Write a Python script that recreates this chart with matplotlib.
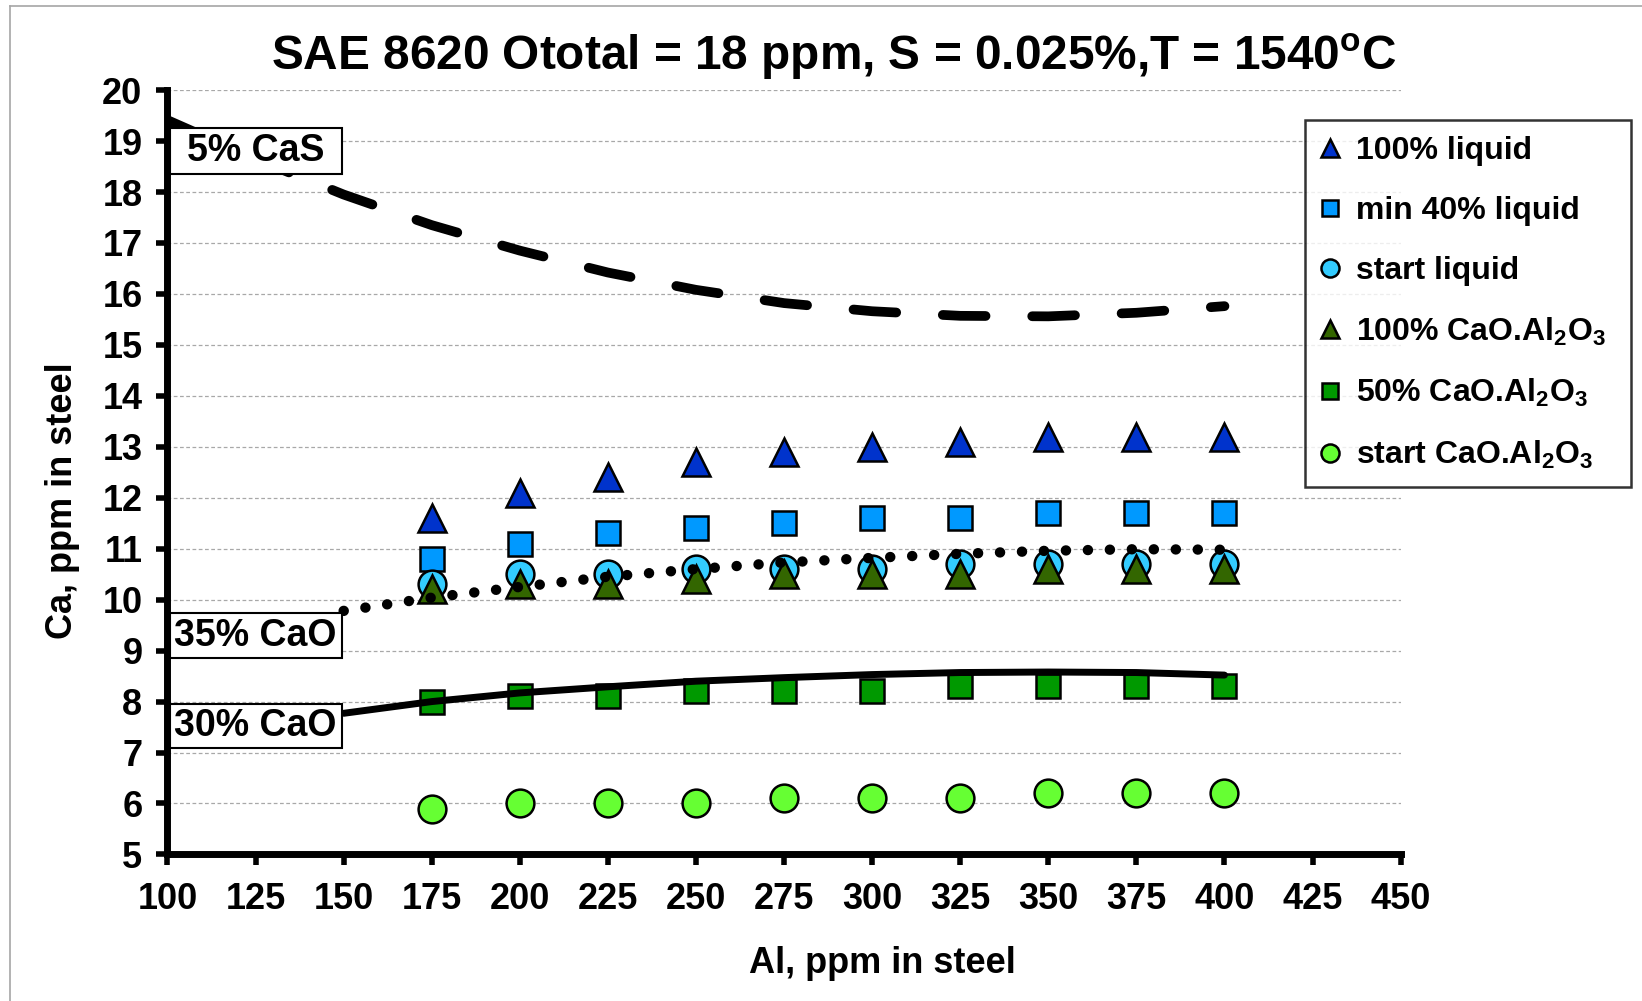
import matplotlib
matplotlib.use('Agg')
import matplotlib.pyplot as plt
from matplotlib.lines import Line2D
from matplotlib.patches import Rectangle
from matplotlib import font_manager

# ---------------- data ----------------
al_ppm = [175, 200, 225, 250, 275, 300, 325, 350, 375, 400]
liquid_100 = [11.6, 12.1, 12.4, 12.7, 12.9, 13.0, 13.1, 13.2, 13.2, 13.2]
liquid_min40 = [10.8, 11.1, 11.3, 11.4, 11.5, 11.6, 11.6, 11.7, 11.7, 11.7]
liquid_start = [10.3, 10.5, 10.5, 10.6, 10.6, 10.6, 10.7, 10.7, 10.7, 10.7]
ca_al_100 = [10.2, 10.3, 10.3, 10.4, 10.5, 10.5, 10.5, 10.6, 10.6, 10.6]
ca_al_50 = [8.0, 8.1, 8.1, 8.2, 8.2, 8.2, 8.3, 8.3, 8.3, 8.3]
ca_al_start = [5.9, 6.0, 6.0, 6.0, 6.1, 6.1, 6.1, 6.2, 6.2, 6.2]

cas_x = [100, 125, 150, 175, 200, 225, 250, 275, 300, 325, 350, 375, 400]
cas_5 = [19.41, 18.65, 17.95, 17.35, 16.85, 16.42, 16.08, 15.82, 15.66, 15.57, 15.56, 15.63, 15.76]

cao_x = [150, 175, 200, 225, 250, 275, 300, 325, 350, 375, 400]
cao_35 = [9.78, 10.04, 10.25, 10.45, 10.60, 10.73, 10.82, 10.90, 10.96, 10.99, 10.98]
cao_30 = [7.77, 8.00, 8.17, 8.29, 8.40, 8.47, 8.53, 8.57, 8.58, 8.57, 8.52]

series_labels = ['100% liquid', 'min 40% liquid', 'start liquid',
                 '100% CaO.Al$_2$O$_3$', '50% CaO.Al$_2$O$_3$', 'start CaO.Al$_2$O$_3$']
line_labels = ['5% CaS', '35% CaO', '30% CaO']
x_ticks = list(range(100, 451, 25))
y_ticks = list(range(5, 21))

title = 'SAE 8620 Ototal = 18 ppm, S = 0.025%,T = 1540$^{\\mathrm{o}}$C'
xlabel = 'Al, ppm in steel'
ylabel = 'Ca, ppm in steel'

# ---------------- style ----------------
plt.rcParams['font.family'] = ['Liberation Sans', 'DejaVu Sans']
plt.rcParams['font.weight'] = 'bold'
plt.rcParams['mathtext.fontset'] = 'custom'
plt.rcParams['mathtext.rm'] = 'Liberation Sans:bold'
plt.rcParams['mathtext.it'] = 'Liberation Sans:bold:italic'
plt.rcParams['mathtext.bf'] = 'Liberation Sans:bold'
plt.rcParams['mathtext.default'] = 'rm'

installed = {f.name for f in font_manager.fontManager.ttflist}
if 'Liberation Sans Narrow' in installed:
    tick_family = ['Liberation Sans Narrow', 'Liberation Sans']
    tick_size = 30
else:
    tick_family = ['Liberation Sans']
    tick_size = 26

fig = plt.figure(figsize=(16.42, 10.01), dpi=100)
fig.patch.set_facecolor('white')

# outer chart border (left and top visible)
fig.add_artist(Line2D([0.006, 0.006], [0.0, 0.994], transform=fig.transFigure,
                      color='#A6A6A6', lw=1.2))
fig.add_artist(Line2D([0.006, 1.0], [0.994, 0.994], transform=fig.transFigure,
                      color='#A6A6A6', lw=1.2))

ax = fig.add_axes([0.102, 0.1464, 0.751, 0.7636])
ax.set_xlim(100, 450)
ax.set_ylim(5, 20)
ax.set_xticks(x_ticks)
ax.set_yticks(y_ticks)
ax.yaxis.grid(True, color='#A8A8A8', linestyle=(0, (3, 2)), linewidth=0.9)
ax.set_axisbelow(True)
for s in ['top', 'right']:
    ax.spines[s].set_visible(False)
for s in ['left', 'bottom']:
    ax.spines[s].set_linewidth(5)
    ax.spines[s].set_color('black')
ax.tick_params(axis='both', direction='out', length=8, width=4, labelsize=tick_size)
ax.tick_params(axis='x', pad=12)
ax.tick_params(axis='y', pad=10)
for lab in ax.get_xticklabels() + ax.get_yticklabels():
    lab.set_fontweight('bold')
    lab.set_fontfamily(tick_family)

ms = 20
mew = 1.8
styles = [
    ('^', '#0033CC'),
    ('s', '#0099FF'),
    ('o', '#33CCFF'),
    ('^', '#336600'),
    ('s', '#009900'),
    ('o', '#66FF33'),
]
data = [liquid_100, liquid_min40, liquid_start, ca_al_100, ca_al_50, ca_al_start]
handles = []
for (mk, col), ys, lab in zip(styles, data, series_labels):
    sz = ms if mk != 's' else ms * 0.88
    h, = ax.plot(al_ppm, ys, linestyle='none', marker=mk, markersize=sz,
                 markerfacecolor=col, markeredgecolor='black', markeredgewidth=mew,
                 label=lab, zorder=3)
    handles.append(h)

# lines
ax.plot(cas_x, cas_5, color='black', lw=7, dashes=(4.4, 4.8),
        dash_capstyle='round', solid_capstyle='round', zorder=4)
ax.plot(cao_x, cao_35, color='black', lw=7.5, dashes=(0.01, 2.1),
        dash_capstyle='round', zorder=4)
ax.plot(cao_x, cao_30, color='black', lw=5, solid_capstyle='round', zorder=4)

# label boxes (fixed-width, like the chart's data labels)
box_specs = [(line_labels[0], 18.36, 19.26), (line_labels[1], 8.86, 9.73),
             (line_labels[2], 7.08, 7.96)]
for txt, y0, y1 in box_specs:
    ax.add_patch(Rectangle((100.6, y0), 48.8, y1 - y0, facecolor='white',
                           edgecolor='black', linewidth=1.5, zorder=6))
    ax.text(125, (y0 + y1) / 2, txt, ha='center', va='center', fontsize=27,
            fontweight='bold', zorder=7)

leg = fig.legend(handles=handles, loc='upper left',
                 bbox_to_anchor=(0.7946, 0.5136, 0.199, 0.3661), mode='expand',
                 frameon=True, fancybox=False, fontsize=23, markerscale=0.65,
                 handlelength=0.6, handletextpad=0.5, labelspacing=0.93,
                 borderpad=0.5, borderaxespad=0)
leg.get_frame().set_edgecolor('black')
leg.get_frame().set_linewidth(1.8)
for t in leg.get_texts():
    t.set_fontweight('bold')

fig.text(0.508, 0.943, title, ha='center', va='center', fontsize=34.4, fontweight='bold')
fig.text(0.5376, 0.0377, xlabel, ha='center', va='center', fontsize=26, fontweight='bold')
fig.text(0.038, 0.5, ylabel, ha='center', va='center', rotation=90, fontsize=26,
         fontweight='bold')

fig.savefig('out.png', dpi=100, facecolor='white')
